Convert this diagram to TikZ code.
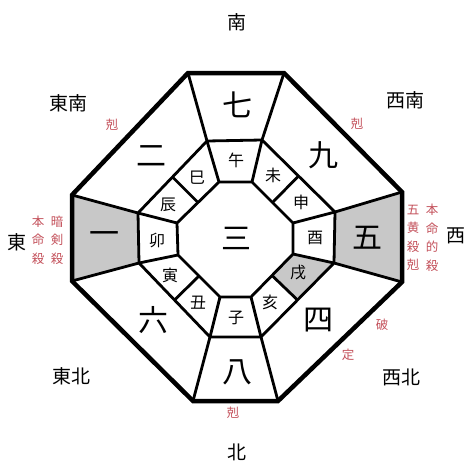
\documentclass[tikz,border=0pt]{standalone}
\usepackage{fontspec}
\setmainfont{Noto Sans CJK JP}
\usetikzlibrary{calc}
\definecolor{kokured}{RGB}{195,80,90}
\definecolor{cellgray}{RGB}{200,200,200}
\tikzset{
  rim/.style={line width=4.5pt,line join=miter},
  wall/.style={line width=2.8pt,line join=miter},
  dirlabel/.style={inner sep=0pt,font=\fontsize{19}{19}\selectfont},
  star/.style={inner sep=0pt,font=\fontsize{30}{30}\selectfont},
  branch/.style={inner sep=0pt,font=\fontsize{16}{16}\selectfont},
  note/.style={inner sep=0pt,text=kokured,align=center,font=\fontsize{12.5}{18.5}\selectfont}
}
\begin{document}
\begin{tikzpicture}[x=1pt,y=-1pt]
    \useasboundingbox (0,0) rectangle (474,474);
    % outer, middle and inner octagon corners
    \coordinate (o1) at (188,73);  \coordinate (o2) at (284,73);
    \coordinate (o3) at (402,192); \coordinate (o4) at (402,282);
    \coordinate (o5) at (278,401); \coordinate (o6) at (193,401);
    \coordinate (o7) at (72,281);  \coordinate (o8) at (72,195);
    \coordinate (m1) at (207,141); \coordinate (m2) at (262,140);
    \coordinate (m3) at (335,212); \coordinate (m4) at (334,263);
    \coordinate (m5) at (261,337); \coordinate (m6) at (210,337);
    \coordinate (m7) at (139,263); \coordinate (m8) at (138,213);
    \coordinate (i1) at (219,182); \coordinate (i2) at (252,182);
    \coordinate (i3) at (293,223); \coordinate (i4) at (293,254);
    \coordinate (i5) at (251,297); \coordinate (i6) at (220,297);
    \coordinate (i7) at (178,255); \coordinate (i8) at (177,223);
    % grey cells
    \fill[cellgray] (o8) -- (o7) -- (m7) -- (m8) -- cycle;
    \fill[cellgray] (o3) -- (o4) -- (m4) -- (m3) -- cycle;
    \fill[cellgray] (i4) -- (m4) -- ($(m4)!0.5!(m5)$) -- ($(i4)!0.5!(i5)$) -- cycle;
    % walls
    \draw[wall] (m1) -- (m2) -- (m3) -- (m4) -- (m5) -- (m6) -- (m7) -- (m8) -- cycle;
    \draw[wall] (i1) -- (i2) -- (i3) -- (i4) -- (i5) -- (i6) -- (i7) -- (i8) -- cycle;
    \foreach \k in {1,...,8} {
        \draw[wall] (o\k) -- (m\k);
        \draw[wall] (m\k) -- (i\k);
    }
    \draw[wall] ($(m8)!0.5!(m1)$) -- ($(i8)!0.5!(i1)$);
    \draw[wall] ($(m2)!0.5!(m3)$) -- ($(i2)!0.5!(i3)$);
    \draw[wall] ($(m4)!0.5!(m5)$) -- ($(i4)!0.5!(i5)$);
    \draw[wall] ($(m6)!0.5!(m7)$) -- ($(i6)!0.5!(i7)$);
    \draw[rim] (o1) -- (o2) -- (o3) -- (o4) -- (o5) -- (o6) -- (o7) -- (o8) -- cycle;
    % directions
    \node[dirlabel] (south) at (237,22) {南};
    \node[dirlabel] (southeast) at (68,103) {東南};
    \node[dirlabel] (southwest) at (405,100) {西南};
    \node[dirlabel] (east) at (17,242) {東};
    \node[dirlabel] (west) at (456,236) {西};
    \node[dirlabel] (northeast) at (71,376) {東北};
    \node[dirlabel] (northwest) at (401,377) {西北};
    \node[dirlabel] (north) at (237,452) {北};
    % stars
    \node[star] (seven) at (237,105) {七};
    \node[star] (two) at (151,156) {二};
    \node[star] (nine) at (323,155) {九};
    \node[star] (one) at (104,238) {一};
    \node[star] (three) at (236,238) {三};
    \node[star] (five) at (367,238) {五};
    \node[star] (six) at (153,320) {六};
    \node[star] (four) at (318,320) {四};
    \node[star] (eight) at (237,372) {八};
    % branches
    \node[branch] (uma) at (236,160) {午};
    \node[branch] (mi) at (197,178) {巳};
    \node[branch] (hitsuji) at (273,175) {未};
    \node[branch] (tatsu) at (168,205) {辰};
    \node[branch] (saru) at (301,202) {申};
    \node[branch] (u) at (157,240) {卯};
    \node[branch] (tori) at (315,238) {酉};
    \node[branch] (tora) at (170,275) {寅};
    \node[branch] (inu) at (298,273) {戌};
    \node[branch] (ushi) at (198,303) {丑};
    \node[branch] (i) at (270,302) {亥};
    \node[branch] (ne) at (236,318) {子};
    % red notes
    \node[note] (koku1) at (112,125) {剋};
    \node[note] (koku2) at (357,124) {剋};
    \node[note] (koku3) at (233,413) {剋};
    \node[note] (ha) at (382,325) {破};
    \node[note] (jo) at (348,355) {定};
    \node[note] (honmei) at (38,240) {本\\命\\殺};
    \node[note] (anken) at (57,240) {暗\\剣\\殺};
    \node[note] (gooh) at (413,238) {五\\黄\\殺\\剋};
    \node[note] (honteki) at (432,238) {本\\命\\的\\殺};
\end{tikzpicture}
\end{document}
